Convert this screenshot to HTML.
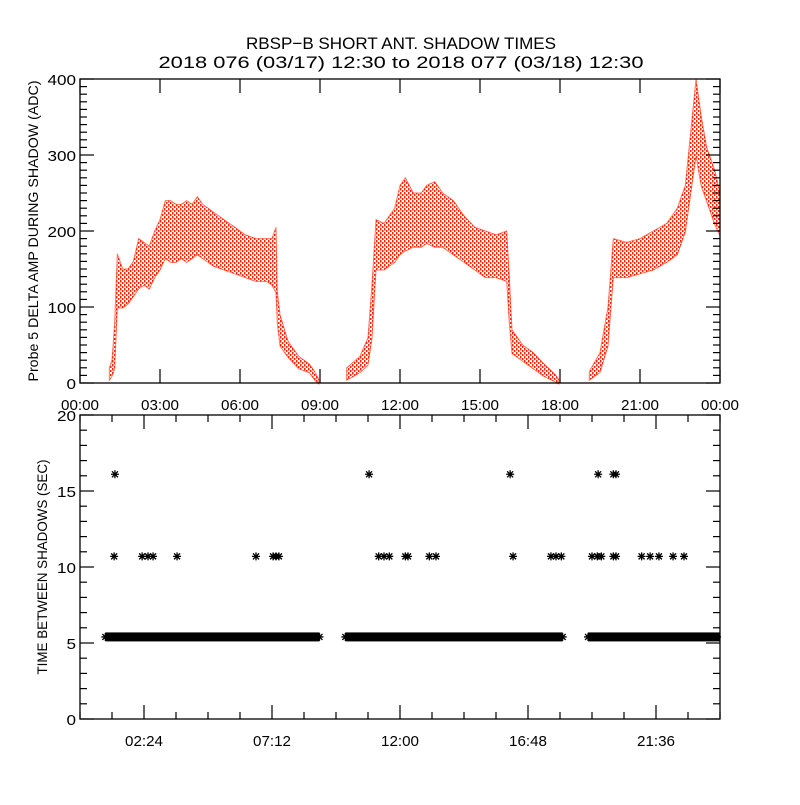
<!DOCTYPE html>
<html><head><meta charset="utf-8"><style>
html,body{margin:0;padding:0;background:#fff}
svg text{font-family:"Liberation Sans",sans-serif;fill:#000}
</style></head><body>
<svg id="c" width="800" height="800" viewBox="0 0 800 800" xmlns="http://www.w3.org/2000/svg">
<defs>
<pattern id="dots" width="4" height="4" patternUnits="userSpaceOnUse">
<rect x="0" y="0" width="1.5" height="2.5" fill="#ff2200"/>
<rect x="2" y="2" width="1.5" height="2.5" fill="#ff2200"/>
</pattern>
</defs>
<rect width="800" height="800" fill="#fff"/>
<text x="401" y="49" font-size="17" text-anchor="middle" textLength="310" lengthAdjust="spacingAndGlyphs">RBSP−B SHORT ANT. SHADOW TIMES</text>
<text x="401" y="68" font-size="17" text-anchor="middle" textLength="485" lengthAdjust="spacingAndGlyphs">2018 076 (03/17) 12:30 to 2018 077 (03/18) 12:30</text>
<g id="topPanel"></g>
<g id="botPanel"></g>
</svg>
<script>
// Top panel data: time bins (hours), low and high amplitude (ADC)
const ampHours = [1.1,1.2,1.3,1.4,1.6,1.8,2.0,2.2,2.4,2.6,2.8,3.0,3.2,3.4,3.6,3.8,4.0,4.2,4.4,4.6,4.8,5.0,5.4,5.8,6.2,6.6,7.0,7.2,7.35,7.4,7.5,7.8,8.2,8.6,8.8,8.95,
 10.0,10.5,10.8,10.95,11.1,11.4,11.8,12.0,12.2,12.5,12.8,13.0,13.3,13.6,14.0,14.4,14.8,15.2,15.6,16.0,16.1,16.2,16.6,17.0,17.4,17.8,17.95,
 19.1,19.5,19.8,20.0,20.5,21.0,21.5,22.0,22.4,22.7,22.9,23.1,23.3,23.5,23.8,24.0];
const ampLow  = [5,10,20,100,100,105,115,125,130,125,140,150,165,160,160,165,160,165,170,165,160,155,150,145,140,135,135,130,120,80,50,35,20,15,5,0,
 5,15,25,60,150,150,160,170,175,180,180,185,180,180,170,160,150,140,140,135,80,40,30,20,10,3,0,
 5,15,50,140,140,145,150,160,170,200,250,300,260,240,210,195];
const ampHigh = [20,30,80,170,150,150,160,190,185,180,200,215,240,240,235,235,240,235,245,235,230,225,215,205,195,190,190,190,205,120,90,55,35,25,15,5,
 20,35,60,130,215,210,230,260,270,250,250,260,265,250,240,220,205,200,195,200,140,70,50,40,25,12,5,
 15,40,100,190,185,190,200,210,230,260,330,400,350,310,280,250];
const segEnds = [9.0, 18.05, 24.01];
// Bottom panel data
const rowStart = [0.95, 9.95, 19.05];
const rowEnd   = [8.98, 18.1, 24.0];
const rowValue = [5.4, 5.4, 5.4];
const outHours = [1.28,1.31,2.33,2.55,2.74,3.64,6.6,7.24,7.35,7.46,10.84,11.2,11.4,11.6,12.2,12.3,13.1,13.35,16.13,16.24,17.66,17.85,18.05,19.2,19.4,19.43,19.55,20.0,20.1,20.0,20.1,21.06,21.38,21.71,22.24,22.65];
const outValue = [10.7,16.1,10.7,10.7,10.7,10.7,10.7,10.7,10.7,10.7,16.1,10.7,10.7,10.7,10.7,10.7,10.7,10.7,16.1,10.7,10.7,10.7,10.7,10.7,10.7,16.1,10.7,16.1,16.1,10.7,10.7,10.7,10.7,10.7,10.7,10.7];
const topXLabels = ["00:00","03:00","06:00","09:00","12:00","15:00","18:00","21:00","00:00"];
const topYLabels = ["0","100","200","300","400"];
const botXLabels = ["02:24","07:12","12:00","16:48","21:36"];
const botYLabels = ["0","5","10","15","20"];

const NS="http://www.w3.org/2000/svg";
const L=80,R=720;
const T1=79,B1=383,T2=415,B2=719;
const xs=h=>L+(R-L)*h/24;
const y1=v=>B1-(B1-T1)*v/400;
const y2=v=>B2-(B2-T2)*v/20;
function mk(tag,attrs,parent){const e=document.createElementNS(NS,tag);for(const k in attrs)e.setAttribute(k,attrs[k]);parent.appendChild(e);return e;}
const topG=document.getElementById('topPanel'), botG=document.getElementById('botPanel');

// Red amplitude polygons per segment
let segStart=0;
for(let s=0;s<segEnds.length;s++){
  const idx=[];
  for(let i=segStart;i<ampHours.length&&ampHours[i]<=segEnds[s];i++){idx.push(i);}
  segStart+=idx.length;
  const up=idx.map(i=>`${xs(ampHours[i]).toFixed(1)},${(y1(ampHigh[i])).toFixed(1)}`);
  const dn=idx.slice().reverse().map(i=>`${xs(ampHours[i]).toFixed(1)},${(y1(ampLow[i])+1).toFixed(1)}`);
  const p=mk('polygon',{points:up.concat(dn).join(' '),fill:'url(#dots)',stroke:'#ff2200','stroke-width':1,'stroke-opacity':0.6},topG);
  
  
}

function axes(g,T,B,yTicksMajor,yMinorStep,yMax,yfn,xMajorH,xMinorH,xLabels,xLabelH,yLabels,ylab,ylabX,ylabLen){
  const fr=mk('rect',{x:L,y:T,width:R-L,height:B-T,fill:'none',stroke:'#000','stroke-width':1.3},g);
  
  
  for(let v=0;v<=yMax+1e-9;v+=yMinorStep){
    const major=Math.abs(v/yTicksMajor-Math.round(v/yTicksMajor))<1e-6;
    const len=major?14:7,y=yfn(v);
    mk('line',{x1:L,x2:L+len,y1:y,y2:y,stroke:'#000','stroke-width':1.2},g);
    mk('line',{x1:R,x2:R-len,y1:y,y2:y,stroke:'#000','stroke-width':1.2},g);
  }
  for(let h=0;h<=24+1e-9;h+=xMinorH){
    const major=xMajorH.some(m=>Math.abs(m-h)<1e-6);
    const len=major?14:7,x=xs(h);
    mk('line',{x1:x,x2:x,y1:B,y2:B-len,stroke:'#000','stroke-width':1.2},g);
    mk('line',{x1:x,x2:x,y1:T,y2:T+len,stroke:'#000','stroke-width':1.2},g);
  }
  xLabels.forEach((s,i)=>{const t=mk('text',{x:xs(xLabelH[i]),y:B+27,'font-size':15,'text-anchor':'middle',textLength:38,lengthAdjust:'spacingAndGlyphs'},g);t.textContent=s;
    
    });
  yLabels.forEach((s,i)=>{const t=mk('text',{x:L-4,y:yfn(i*yTicksMajor)+6,'font-size':15,'text-anchor':'end',textLength:s.length*9.5,lengthAdjust:'spacingAndGlyphs'},g);t.textContent=s;
    
    });
  const c=(T+B)/2;
  const t=mk('text',{x:ylabX,y:c,'font-size':14,'text-anchor':'middle',transform:`rotate(-90 ${ylabX} ${c})`,textLength:ylabLen,lengthAdjust:'spacingAndGlyphs'},g);
  t.textContent=ylab;
  
  
}
axes(topG,T1,B1,100,10,400,y1,[0,3,6,9,12,15,18,21,24],3,topXLabels,[0,3,6,9,12,15,18,21,24],topYLabels,"Probe 5 DELTA AMP DURING SHADOW (ADC)",38,301);
axes(botG,T2,B2,5,1,20,y2,[2.4,7.2,12,16.8,21.6],1.2,botXLabels,[2.4,7.2,12,16.8,21.6],botYLabels,"TIME BETWEEN SHADOWS (SEC)",47,215);

function star(x,y,g){
  const s=mk('path',{d:`M${x-4} ${y}H${x+4}M${x} ${y-4}V${y+4}M${x-3} ${y-3}L${x+3} ${y+3}M${x-3} ${y+3}L${x+3} ${y-3}`,stroke:'#000','stroke-width':1.3,fill:'none'},g);
  
  
}
for(let i=0;i<rowStart.length;i++){
  const y=y2(rowValue[i]);
  const r=mk('rect',{x:xs(rowStart[i]),y:y-4.5,width:xs(rowEnd[i])-xs(rowStart[i]),height:9,fill:'#000'},botG);
  
  
  star(xs(rowStart[i]),y,botG);star(Math.min(xs(rowEnd[i]),R-3),y,botG);
}
for(let i=0;i<outHours.length;i++) star(xs(outHours[i]),y2(outValue[i]),botG);
</script>
</body></html>
